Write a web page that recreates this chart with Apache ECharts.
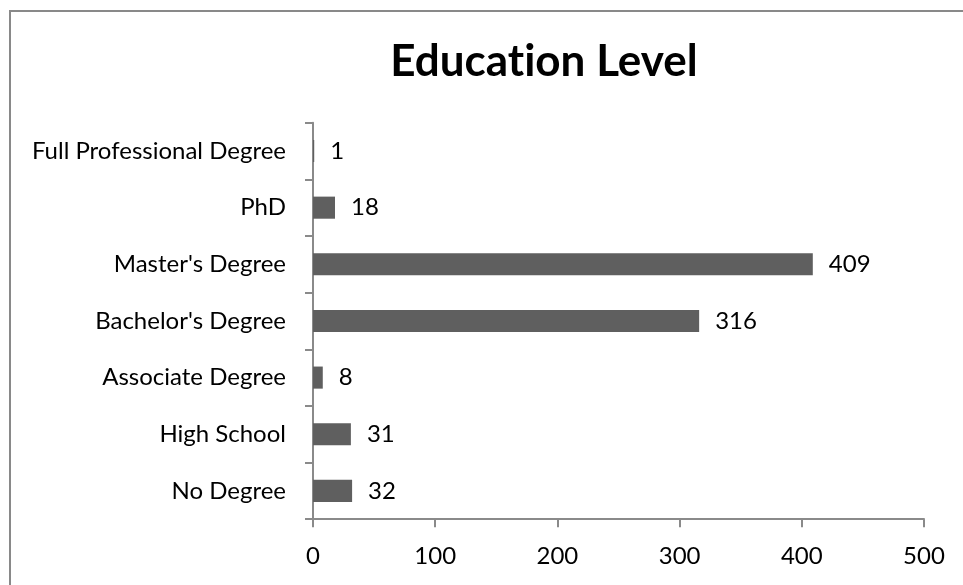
<!DOCTYPE html>
<html>
<head>
<meta charset="utf-8">
<script src="https://cdn.jsdelivr.net/npm/echarts@6/dist/echarts.min.js"></script>
<style>
  html, body { margin: 0; padding: 0; background: #ffffff; }
  #chart { width: 963px; height: 585px; }
</style>
</head>
<body>
<div id="chart"></div>
<script>
// Education levels, listed bottom to top as they appear on the axis
const categories = [
  'No Degree',
  'High School',
  'Associate Degree',
  "Bachelor's Degree",
  "Master's Degree",
  'PhD',
  'Full Professional Degree'
];
const counts = [32, 31, 8, 316, 409, 18, 1];
const xTicks = [0, 100, 200, 300, 400, 500];

const FONT = 'Lato';
const chart = echarts.init(document.getElementById('chart'), null, { renderer: 'canvas' });

chart.setOption({
  animation: false,
  backgroundColor: '#ffffff',
  title: {
    // zero-width non-joiner keeps "t" and "i" as separate glyphs
    text: 'Educat\u200Cion Level',
    left: 539,
    top: 35,
    textAlign: 'center',
    textStyle: { fontFamily: FONT, fontWeight: 'bold', fontSize: 44, color: '#000000' }
  },
  graphic: [{
    type: 'rect',
    shape: { x: 10, y: 11, width: 1000, height: 1000 },
    style: { fill: 'none', stroke: '#898989', lineWidth: 2 },
    silent: true
  }],
  grid: { left: 313, right: 39, top: 122.7, bottom: 65.8, containLabel: false },
  xAxis: {
    type: 'value',
    min: xTicks[0],
    max: xTicks[xTicks.length - 1],
    interval: xTicks[1] - xTicks[0],
    axisLine: { show: true, lineStyle: { color: '#8a8a8a', width: 2 } },
    axisTick: { show: true, length: 8, lineStyle: { color: '#8a8a8a', width: 2 } },
    splitLine: { show: false },
    axisLabel: { margin: 25, fontFamily: FONT, fontSize: 24, color: '#000000' }
  },
  yAxis: {
    type: 'category',
    data: categories,
    axisLine: { show: true, lineStyle: { color: '#8a8a8a', width: 2 } },
    axisTick: { show: true, length: 8, lineStyle: { color: '#8a8a8a', width: 2 } },
    axisLabel: { margin: 27, fontFamily: FONT, fontSize: 24, color: '#000000' }
  },
  series: [{
    type: 'bar',
    data: counts,
    barCategoryGap: '61%',
    itemStyle: { color: '#5f5f5f' },
    label: {
      show: true,
      position: 'right',
      distance: 16,
      fontFamily: FONT,
      fontSize: 24,
      color: '#000000'
    }
  }]
});
</script>
</body>
</html>
